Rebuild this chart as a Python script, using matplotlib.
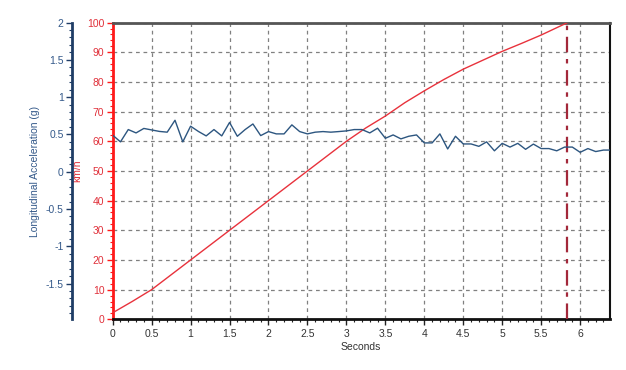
import matplotlib
matplotlib.use('Agg')
from matplotlib import pyplot as plt
from matplotlib.ticker import MultipleLocator
import numpy as np

plt.rcParams['font.family'] = ['Liberation Sans', 'DejaVu Sans']

# speed trace (km/h)
speed_t = [0, 0.25, 0.5, 0.75, 1.0, 1.25, 1.5, 1.75, 2.0, 2.25, 2.5, 2.75, 3.0,
           3.25, 3.5, 3.75, 4.0, 4.25, 4.5, 4.75, 5.0, 5.25, 5.5, 5.84]
speed_kmh = [2.2, 6, 10, 15, 20, 25, 30, 35, 40, 45, 50, 55, 60,
             64.5, 68.5, 73, 77, 80.8, 84.3, 87.3, 90.3, 93, 95.8, 100]

# longitudinal acceleration (g), one sample every 0.1 s
acc_t = [round(0.1 * i, 1) for i in range(65)]
acc_g = [0.49, 0.40, 0.565, 0.52, 0.58, 0.56, 0.54, 0.53, 0.69, 0.40,
         0.61, 0.54, 0.48, 0.565, 0.48, 0.66, 0.475, 0.565, 0.64, 0.484,
         0.538, 0.507, 0.507, 0.628, 0.538, 0.507, 0.53, 0.538, 0.53, 0.538,
         0.547, 0.565, 0.565, 0.52, 0.583, 0.448, 0.493, 0.44, 0.475, 0.493,
         0.386, 0.386, 0.507, 0.305, 0.475, 0.372, 0.372, 0.34, 0.40, 0.28,
         0.38, 0.33, 0.38, 0.30, 0.37, 0.31, 0.31, 0.28, 0.33, 0.33,
         0.26, 0.31, 0.27, 0.29, 0.29]

t_100 = 5.83  # time to 100 km/h marker

x_ticks = np.arange(0, 6.01, 0.5)
x_labels = ['0', '0.5', '1', '1.5', '2', '2.5', '3', '3.5', '4', '4.5', '5', '5.5', '6']
kmh_ticks = list(range(0, 101, 10))
g_ticks = [-1.5, -1, -0.5, 0, 0.5, 1, 1.5, 2]
g_labels = ['-1.5', '-1', '-0.5', '0', '0.5', '1', '1.5', '2']

red = '#ff1a1a'
red_txt = '#e0303a'
blue = '#2d5680'
blue_txt = '#34598a'
fs = 7.5

fig = plt.figure(figsize=(6.26, 3.70), dpi=100)
ax = fig.add_axes([0.180, 0.137, 0.794, 0.802])

ax.plot(speed_t, speed_kmh, color='#e8323c', lw=1.0, zorder=3)
ax.plot([t_100, t_100], [0, 100], color='#a3283a', lw=1.6,
        linestyle=(0, (7, 3, 2, 3)), zorder=3)

ax.set_xlim(0, 6.38)
ax.set_ylim(0, 100)
ax.set_xticks(x_ticks)
ax.set_xticklabels(x_labels, fontsize=fs, color='#333333')
ax.xaxis.set_minor_locator(MultipleLocator(0.1))
ax.set_yticks(kmh_ticks)
ax.set_yticklabels([str(v) for v in kmh_ticks], fontsize=fs, color=red_txt)
ax.yaxis.set_minor_locator(MultipleLocator(2))
ax.tick_params(axis='x', which='major', length=4, width=1, color='#222222', pad=3)
ax.tick_params(axis='x', which='minor', length=2, width=0.8, color='#222222')
ax.tick_params(axis='y', which='major', length=4, width=1, color=red, pad=2)
ax.tick_params(axis='y', which='minor', length=2, width=0.8, color=red)
ax.grid(True, which='major', color='#808080', lw=0.9, linestyle=(0, (3, 3)))
ax.set_axisbelow(True)

ax.spines['left'].set_color(red)
ax.spines['left'].set_linewidth(2)
ax.spines['bottom'].set_color('#111111')
ax.spines['bottom'].set_linewidth(2)
ax.spines['top'].set_color('#555555')
ax.spines['top'].set_linewidth(2)
ax.spines['right'].set_color('#111111')
ax.spines['right'].set_linewidth(1.5)

ax.set_xlabel('Seconds', fontsize=fs, color='#333333', labelpad=2)
ax.text(-0.072, 0.5, 'km/h', transform=ax.transAxes, rotation=90,
        ha='center', va='center', fontsize=fs, color=red_txt)

# acceleration axis on an offset left spine
ax2 = ax.twinx()
ax2.plot(acc_t, acc_g, color=blue, lw=1.0, zorder=4)
ax2.set_ylim(-1.98, 2)
ax2.yaxis.tick_left()
ax2.yaxis.set_label_position('left')
ax2.spines['left'].set_position(('axes', -0.0818))
ax2.spines['left'].set_color('#1f3d66')
ax2.spines['left'].set_linewidth(2)
for s in ['right', 'top', 'bottom']:
    ax2.spines[s].set_visible(False)
ax2.set_yticks(g_ticks)
ax2.set_yticklabels(g_labels, fontsize=fs, color=blue_txt)
ax2.yaxis.set_minor_locator(MultipleLocator(0.1))
ax2.tick_params(axis='y', which='major', length=4, width=1, color='#1f3d66', pad=2)
ax2.tick_params(axis='y', which='minor', length=2, width=0.8, color='#1f3d66')
ax2.set_ylabel('Longitudinal Acceleration (g)', fontsize=fs, color=blue_txt, labelpad=4)

fig.savefig('out.png', dpi=100)
